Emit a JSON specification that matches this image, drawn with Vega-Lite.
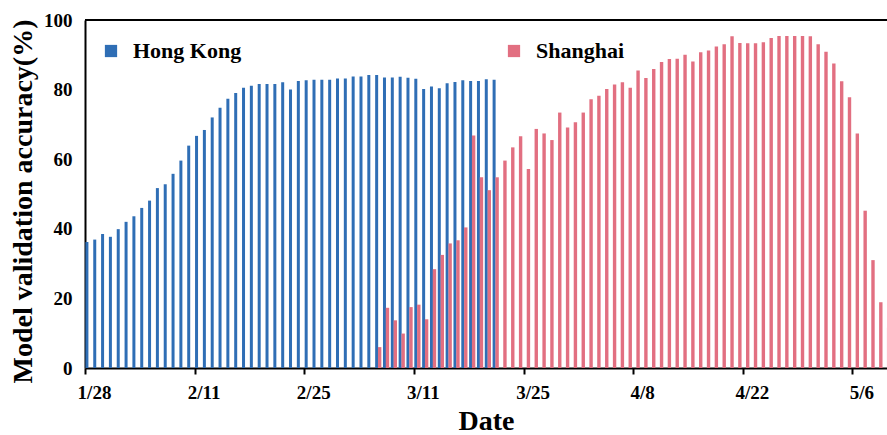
{
  "$schema": "https://vega.github.io/schema/vega-lite/v6.json",
  "autosize": "none",
  "width": 802,
  "height": 348,
  "padding": {"left": 85, "top": 20, "right": 0, "bottom": 67},
  "background": "white",
  "config": {
    "view": {"stroke": null},
    "font": "Liberation Serif",
    "axis": {"grid": false, "domainColor": "black", "domainWidth": 2, "labelFont": "Liberation Serif", "labelFontWeight": "bold", "labelFontSize": 19, "labelColor": "black", "titleFont": "Liberation Serif", "titleFontWeight": "bold", "titleFontSize": 28, "titleColor": "black"}
  },
  "data": {"values": [
    {"date": "2022-01-28", "city": "Hong Kong", "acc": 36.2},
    {"date": "2022-01-29", "city": "Hong Kong", "acc": 36.9},
    {"date": "2022-01-30", "city": "Hong Kong", "acc": 38.5},
    {"date": "2022-01-31", "city": "Hong Kong", "acc": 37.7},
    {"date": "2022-02-01", "city": "Hong Kong", "acc": 39.9},
    {"date": "2022-02-02", "city": "Hong Kong", "acc": 42.0},
    {"date": "2022-02-03", "city": "Hong Kong", "acc": 43.6},
    {"date": "2022-02-04", "city": "Hong Kong", "acc": 46.0},
    {"date": "2022-02-05", "city": "Hong Kong", "acc": 48.1},
    {"date": "2022-02-06", "city": "Hong Kong", "acc": 51.7},
    {"date": "2022-02-07", "city": "Hong Kong", "acc": 52.8},
    {"date": "2022-02-08", "city": "Hong Kong", "acc": 55.8},
    {"date": "2022-02-09", "city": "Hong Kong", "acc": 59.6},
    {"date": "2022-02-10", "city": "Hong Kong", "acc": 63.9},
    {"date": "2022-02-11", "city": "Hong Kong", "acc": 66.7},
    {"date": "2022-02-12", "city": "Hong Kong", "acc": 68.4},
    {"date": "2022-02-13", "city": "Hong Kong", "acc": 72.0},
    {"date": "2022-02-14", "city": "Hong Kong", "acc": 74.8},
    {"date": "2022-02-15", "city": "Hong Kong", "acc": 77.4},
    {"date": "2022-02-16", "city": "Hong Kong", "acc": 79.0},
    {"date": "2022-02-17", "city": "Hong Kong", "acc": 80.5},
    {"date": "2022-02-18", "city": "Hong Kong", "acc": 81.1},
    {"date": "2022-02-19", "city": "Hong Kong", "acc": 81.6},
    {"date": "2022-02-20", "city": "Hong Kong", "acc": 81.6},
    {"date": "2022-02-21", "city": "Hong Kong", "acc": 81.6},
    {"date": "2022-02-22", "city": "Hong Kong", "acc": 82.1},
    {"date": "2022-02-23", "city": "Hong Kong", "acc": 80.0},
    {"date": "2022-02-24", "city": "Hong Kong", "acc": 82.5},
    {"date": "2022-02-25", "city": "Hong Kong", "acc": 82.7},
    {"date": "2022-02-26", "city": "Hong Kong", "acc": 82.8},
    {"date": "2022-02-27", "city": "Hong Kong", "acc": 82.8},
    {"date": "2022-02-28", "city": "Hong Kong", "acc": 82.8},
    {"date": "2022-03-01", "city": "Hong Kong", "acc": 83.2},
    {"date": "2022-03-02", "city": "Hong Kong", "acc": 83.2},
    {"date": "2022-03-03", "city": "Hong Kong", "acc": 83.8},
    {"date": "2022-03-04", "city": "Hong Kong", "acc": 83.8},
    {"date": "2022-03-05", "city": "Hong Kong", "acc": 84.2},
    {"date": "2022-03-06", "city": "Hong Kong", "acc": 84.2},
    {"date": "2022-03-07", "city": "Hong Kong", "acc": 83.5},
    {"date": "2022-03-08", "city": "Hong Kong", "acc": 83.5},
    {"date": "2022-03-09", "city": "Hong Kong", "acc": 83.7},
    {"date": "2022-03-10", "city": "Hong Kong", "acc": 83.4},
    {"date": "2022-03-11", "city": "Hong Kong", "acc": 83.1},
    {"date": "2022-03-12", "city": "Hong Kong", "acc": 80.2},
    {"date": "2022-03-13", "city": "Hong Kong", "acc": 80.9},
    {"date": "2022-03-14", "city": "Hong Kong", "acc": 80.4},
    {"date": "2022-03-15", "city": "Hong Kong", "acc": 81.8},
    {"date": "2022-03-16", "city": "Hong Kong", "acc": 82.2},
    {"date": "2022-03-17", "city": "Hong Kong", "acc": 82.7},
    {"date": "2022-03-18", "city": "Hong Kong", "acc": 82.5},
    {"date": "2022-03-19", "city": "Hong Kong", "acc": 82.5},
    {"date": "2022-03-20", "city": "Hong Kong", "acc": 83.0},
    {"date": "2022-03-21", "city": "Hong Kong", "acc": 82.8},
    {"date": "2022-03-06", "city": "Shanghai", "acc": 6.0},
    {"date": "2022-03-07", "city": "Shanghai", "acc": 17.3},
    {"date": "2022-03-08", "city": "Shanghai", "acc": 13.7},
    {"date": "2022-03-09", "city": "Shanghai", "acc": 9.9},
    {"date": "2022-03-10", "city": "Shanghai", "acc": 17.5},
    {"date": "2022-03-11", "city": "Shanghai", "acc": 18.2},
    {"date": "2022-03-12", "city": "Shanghai", "acc": 14.0},
    {"date": "2022-03-13", "city": "Shanghai", "acc": 28.4},
    {"date": "2022-03-14", "city": "Shanghai", "acc": 32.5},
    {"date": "2022-03-15", "city": "Shanghai", "acc": 35.8},
    {"date": "2022-03-16", "city": "Shanghai", "acc": 36.7},
    {"date": "2022-03-17", "city": "Shanghai", "acc": 40.4},
    {"date": "2022-03-18", "city": "Shanghai", "acc": 66.8},
    {"date": "2022-03-19", "city": "Shanghai", "acc": 54.8},
    {"date": "2022-03-20", "city": "Shanghai", "acc": 51.1},
    {"date": "2022-03-21", "city": "Shanghai", "acc": 54.8},
    {"date": "2022-03-22", "city": "Shanghai", "acc": 59.6},
    {"date": "2022-03-23", "city": "Shanghai", "acc": 63.4},
    {"date": "2022-03-24", "city": "Shanghai", "acc": 66.6},
    {"date": "2022-03-25", "city": "Shanghai", "acc": 57.2},
    {"date": "2022-03-26", "city": "Shanghai", "acc": 68.7},
    {"date": "2022-03-27", "city": "Shanghai", "acc": 67.4},
    {"date": "2022-03-28", "city": "Shanghai", "acc": 65.5},
    {"date": "2022-03-29", "city": "Shanghai", "acc": 73.4},
    {"date": "2022-03-30", "city": "Shanghai", "acc": 69.1},
    {"date": "2022-03-31", "city": "Shanghai", "acc": 70.6},
    {"date": "2022-04-01", "city": "Shanghai", "acc": 73.4},
    {"date": "2022-04-02", "city": "Shanghai", "acc": 77.2},
    {"date": "2022-04-03", "city": "Shanghai", "acc": 78.2},
    {"date": "2022-04-04", "city": "Shanghai", "acc": 80.2},
    {"date": "2022-04-05", "city": "Shanghai", "acc": 81.5},
    {"date": "2022-04-06", "city": "Shanghai", "acc": 82.1},
    {"date": "2022-04-07", "city": "Shanghai", "acc": 80.5},
    {"date": "2022-04-08", "city": "Shanghai", "acc": 85.5},
    {"date": "2022-04-09", "city": "Shanghai", "acc": 83.3},
    {"date": "2022-04-10", "city": "Shanghai", "acc": 85.9},
    {"date": "2022-04-11", "city": "Shanghai", "acc": 87.9},
    {"date": "2022-04-12", "city": "Shanghai", "acc": 88.8},
    {"date": "2022-04-13", "city": "Shanghai", "acc": 88.9},
    {"date": "2022-04-14", "city": "Shanghai", "acc": 90.0},
    {"date": "2022-04-15", "city": "Shanghai", "acc": 88.1},
    {"date": "2022-04-16", "city": "Shanghai", "acc": 90.7},
    {"date": "2022-04-17", "city": "Shanghai", "acc": 91.2},
    {"date": "2022-04-18", "city": "Shanghai", "acc": 92.4},
    {"date": "2022-04-19", "city": "Shanghai", "acc": 93.0},
    {"date": "2022-04-20", "city": "Shanghai", "acc": 95.3},
    {"date": "2022-04-21", "city": "Shanghai", "acc": 93.4},
    {"date": "2022-04-22", "city": "Shanghai", "acc": 93.3},
    {"date": "2022-04-23", "city": "Shanghai", "acc": 93.3},
    {"date": "2022-04-24", "city": "Shanghai", "acc": 93.6},
    {"date": "2022-04-25", "city": "Shanghai", "acc": 94.8},
    {"date": "2022-04-26", "city": "Shanghai", "acc": 95.4},
    {"date": "2022-04-27", "city": "Shanghai", "acc": 95.4},
    {"date": "2022-04-28", "city": "Shanghai", "acc": 95.4},
    {"date": "2022-04-29", "city": "Shanghai", "acc": 95.4},
    {"date": "2022-04-30", "city": "Shanghai", "acc": 95.3},
    {"date": "2022-05-01", "city": "Shanghai", "acc": 93.0},
    {"date": "2022-05-02", "city": "Shanghai", "acc": 90.9},
    {"date": "2022-05-03", "city": "Shanghai", "acc": 87.5},
    {"date": "2022-05-04", "city": "Shanghai", "acc": 82.4},
    {"date": "2022-05-05", "city": "Shanghai", "acc": 77.8},
    {"date": "2022-05-06", "city": "Shanghai", "acc": 67.4},
    {"date": "2022-05-07", "city": "Shanghai", "acc": 45.2},
    {"date": "2022-05-08", "city": "Shanghai", "acc": 31.0},
    {"date": "2022-05-09", "city": "Shanghai", "acc": 18.9},
    {"date": "2022-05-10", "city": "Shanghai", "acc": 11.6}
  ]},
  "encoding": {
    "x": {
      "field": "date", "type": "temporal", "timeUnit": "utcyearmonthdate", "bandPosition": 0.5,
      "scale": {"domain": [{"year": 2022, "month": 1, "date": 28, "utc": true}, {"year": 2022, "month": 5, "date": 10, "hours": 10, "utc": true}]},
      "axis": {
        "title": "Date", "titlePadding": 5,
        "values": [
          {"year": 2022, "month": 1, "date": 28, "utc": true},
          {"year": 2022, "month": 2, "date": 11, "utc": true},
          {"year": 2022, "month": 2, "date": 25, "utc": true},
          {"year": 2022, "month": 3, "date": 11, "utc": true},
          {"year": 2022, "month": 3, "date": 25, "utc": true},
          {"year": 2022, "month": 4, "date": 8, "utc": true},
          {"year": 2022, "month": 4, "date": 22, "utc": true},
          {"year": 2022, "month": 5, "date": 6, "utc": true}
        ],
        "format": "%-m/%-d", "labelOverlap": false, "labelFlush": false,
        "tickSize": 6, "tickWidth": 2, "tickColor": "black", "labelPadding": 9, "labelOffset": 9
      }
    },
    "y": {
      "field": "acc", "type": "quantitative",
      "scale": {"domain": [0, 100]},
      "axis": {"title": "Model validation accuracy(%)", "values": [0, 20, 40, 60, 80, 100], "ticks": false, "tickSize": 0, "labelPadding": 13, "titlePadding": 6, "titleY": 181}
    },
    "color": {
      "field": "city", "type": "nominal",
      "scale": {"domain": ["Hong Kong", "Shanghai"], "range": ["#2F6EB5", "#E26F81"]},
      "legend": {
        "title": null, "orient": "none", "legendX": 15, "legendY": 20, "direction": "horizontal",
        "symbolType": "square", "symbolSize": 150, "symbolStrokeWidth": 0, "labelFont": "Liberation Serif",
        "labelFontWeight": "bold", "labelFontSize": 22, "labelColor": "black", "labelOffset": 11,
        "columnPadding": 261, "padding": 0
      }
    }
  },
  "layer": [
    {
      "transform": [{"filter": "datum.city === 'Hong Kong'"}],
      "mark": {"type": "bar", "width": 3, "xOffset": -2}
    },
    {
      "transform": [{"filter": "datum.city === 'Shanghai'"}],
      "mark": {"type": "bar", "width": 3.4, "xOffset": 1}
    },
    {
      "mark": {"type": "rule", "color": "black", "strokeWidth": 2},
      "encoding": {"y": {"datum": 100}, "x": null, "color": null}
    }
  ]
}
